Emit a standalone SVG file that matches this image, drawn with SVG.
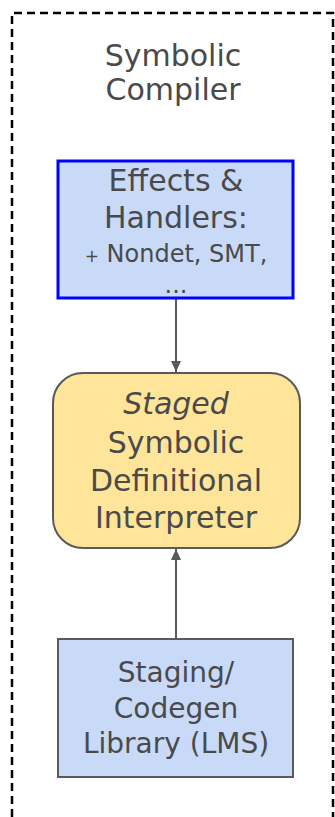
<svg xmlns="http://www.w3.org/2000/svg" width="335" height="817" viewBox="0 0 335 817">
  <defs>
    <marker id="arrow" viewBox="0 0 10 10" refX="10" refY="5" markerWidth="11" markerHeight="10" markerUnits="userSpaceOnUse" orient="auto" preserveAspectRatio="none">
      <path d="M0,0 L10,5 L0,10 z" fill="#595959"/>
    </marker>
    <style>
      text { font-family: "DejaVu Sans", "Liberation Sans", sans-serif; fill: #4a4a4a; text-anchor: middle; }
      .big { font-size: 30px; }
      .mid { font-size: 28px; }
      .small { font-size: 24px; }
      .blue { fill: #c9daf8; }
      .plain { stroke: #595959; stroke-width: 2; }
      .edge { stroke: #595959; stroke-width: 2; fill: none; marker-end: url(#arrow); }
    </style>
  </defs>
  <rect width="335" height="817" fill="#ffffff"/>

  <!-- enclosing component boundary -->
  <g id="symbolic-compiler">
    <path d="M12,830 L12,13 L333,13 L333,830" fill="none" stroke="#000000" stroke-width="2.5" stroke-dasharray="8,5"/>
    <text class="big" x="173" y="66">Symbolic</text>
    <text class="big" x="173" y="100">Compiler</text>
  </g>

  <g id="connectors">
    <line class="edge" x1="176" y1="299" x2="176" y2="372"/>
    <line class="edge" x1="176" y1="639" x2="176" y2="549"/>
  </g>

  <g id="effects-handlers">
    <rect class="blue" x="58" y="161" width="235" height="137" stroke="#0000ff" stroke-width="3"/>
    <text class="big" x="176" y="191">Effects &amp;</text>
    <text class="big" x="176" y="228">Handlers:</text>
    <text class="small" x="176" y="262"><tspan font-size="17">+</tspan> Nondet, SMT,</text>
    <text class="small" x="176" y="293">...</text>
  </g>

  <g id="staged-interpreter">
    <rect x="53" y="373" width="247" height="175" rx="30" ry="30" fill="#ffe599" class="plain"/>
    <text class="big" x="176" y="414" font-style="italic">Staged</text>
    <text class="big" x="176" y="453">Symbolic</text>
    <text class="big" x="176" y="491">Definitional</text>
    <text class="big" x="176" y="528">Interpreter</text>
  </g>

  <g id="staging-library">
    <rect class="blue plain" x="58" y="639" width="235" height="138"/>
    <text class="mid" x="176" y="682">Staging/</text>
    <text class="mid" x="176" y="718">Codegen</text>
    <text class="mid" x="176" y="753">Library (LMS)</text>
  </g>
</svg>
